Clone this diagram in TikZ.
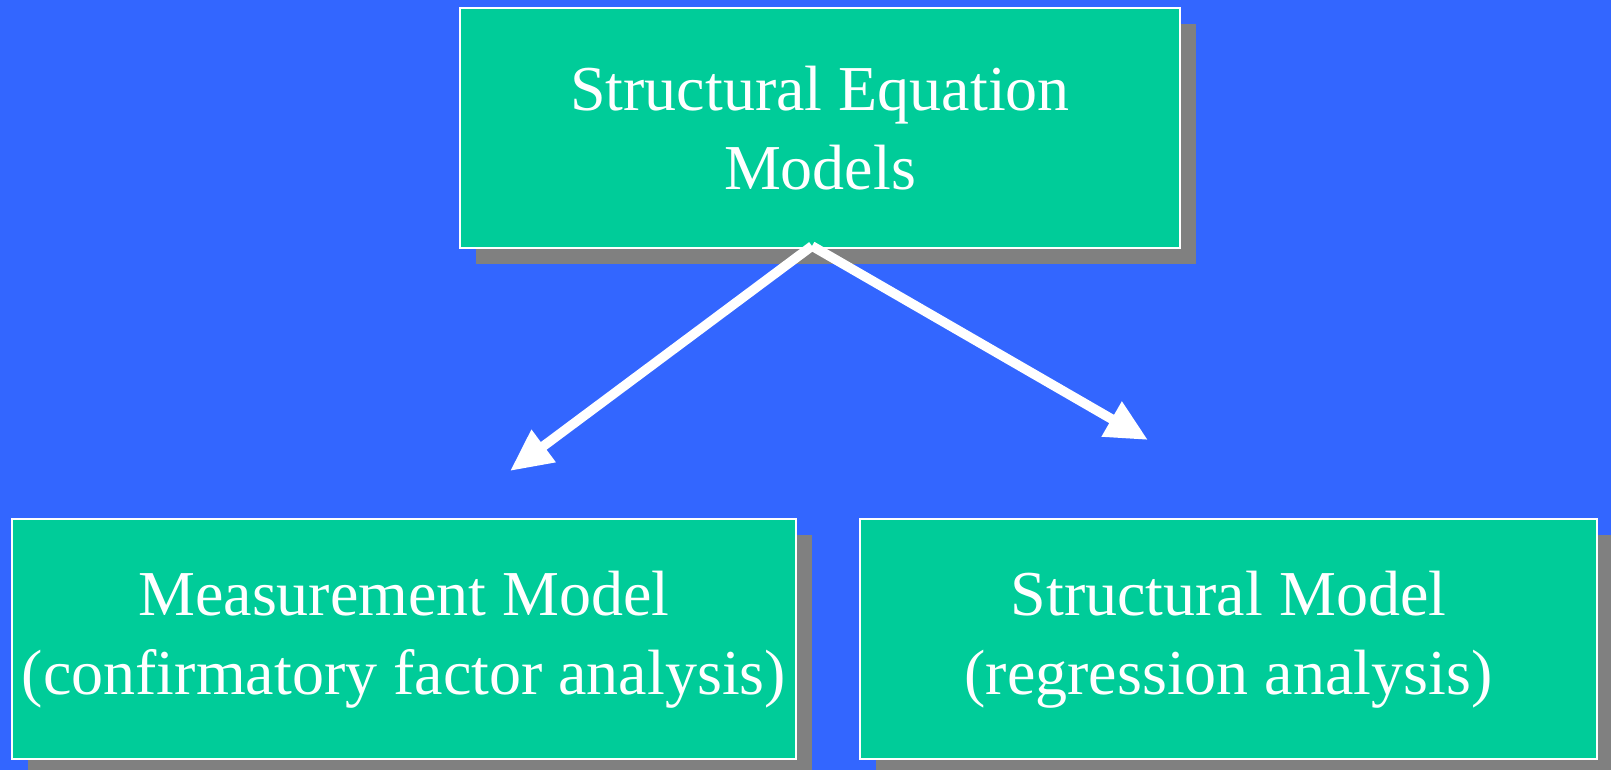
\documentclass[tikz,border=0pt]{standalone}
\usepackage{fontspec}
\setmainfont{Liberation Serif}
\usepackage{tikz}
\usetikzlibrary{arrows.meta,shadows}

\definecolor{slideblue}{RGB}{51,102,255}
\definecolor{boxgreen}{RGB}{0,204,153}
\definecolor{shadowgray}{RGB}{128,128,128}

\begin{document}
\begin{tikzpicture}[x=0.5pt, y=0.5pt,
		modelbox/.style={draw=white, line width=1pt, fill=boxgreen, text=white,
			align=center, inner sep=0pt, minimum height=120pt,
			font=\fontsize{32}{39.5}\selectfont,
			drop shadow={shadow xshift=8pt, shadow yshift=-8pt, fill=shadowgray, opacity=1}},
		branch/.style={white, line width=4.8pt, -{Triangle[length=21pt, width=19pt]}}]
				% Background
				\fill[slideblue] (0,0) rectangle (1611,770);
				\useasboundingbox (0,0) rectangle (1611,770);
				% Boxes
				\node[modelbox, minimum width=360pt] (sem) at (820,642) {Structural Equation\\Models};
				\node[modelbox, minimum width=392pt] (measure) at (404,130.5) {Measurement Model\\(confirmatory factor analysis)};
				\node[modelbox, minimum width=368.5pt] (structure) at (1228.5,130.5) {Structural Model\\(regression analysis)};
				% Arrows
				\coordinate (fork) at (812,524);
				\coordinate (cfa) at (510,299);
				\coordinate (reg) at (1148,330);
				\draw[branch] (fork) -- (cfa);
				\draw[branch] (fork) -- (reg);
			\end{tikzpicture}
\end{document}
